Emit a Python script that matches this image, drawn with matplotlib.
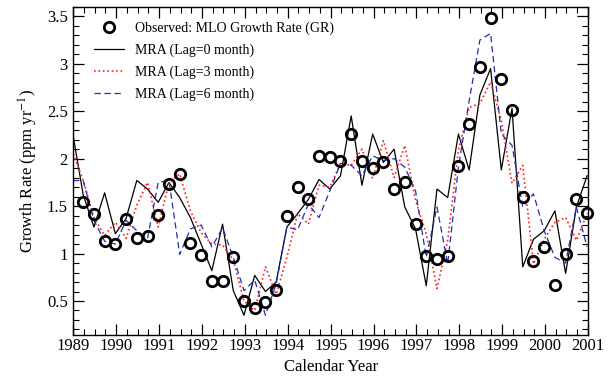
import numpy as np
import matplotlib
matplotlib.use("Agg")
import matplotlib.pyplot as plt
from matplotlib.ticker import MultipleLocator, FixedLocator

plt.rcParams['font.family'] = ['Liberation Serif', 'DejaVu Serif']
plt.rcParams['mathtext.fontset'] = 'stix'

# Quarterly time axis
line_years = 1989.0 + 0.25 * np.arange(49) - np.r_[0, np.full(48, 0.02)]
obs_years = line_years[1:]

observed = [1.54, 1.42, 1.13, 1.10, 1.36, 1.16, 1.19, 1.41, 1.735, 1.84, 1.11, 0.99,
            0.71, 0.715, 0.96, 0.50, 0.43, 0.49, 0.62, 1.40, 1.70, 1.58, 2.03, 2.02,
            1.98, 2.255, 1.98, 1.90, 1.96, 1.68, 1.75, 1.31, 0.97, 0.94, 0.97, 1.92,
            2.37, 2.965, 3.48, 2.84, 2.51, 1.60, 0.92, 1.07, 0.67, 1.00, 1.58, 1.425]

mra_lag0 = [2.23, 1.62, 1.28, 1.64, 1.21, 1.37, 1.77, 1.68, 1.54, 1.75, 1.59, 1.38,
            1.10, 0.82, 1.31, 0.61, 0.35, 0.77, 0.60, 0.70, 1.28, 1.42, 1.57, 1.78,
            1.68, 1.82, 2.45, 1.72, 2.26, 1.96, 2.10, 1.49, 1.26, 0.66, 1.68, 1.59,
            2.26, 1.88, 2.67, 2.95, 1.88, 2.53, 0.86, 1.15, 1.24, 1.45, 0.79, 1.49, 1.82]

mra_lag3 = [2.05, 1.77, 1.38, 1.19, 1.33, 1.16, 1.51, 1.75, 1.28, 1.75, 1.84, 1.45,
            1.22, 1.10, 1.09, 0.93, 0.50, 0.40, 0.86, 0.57, 0.96, 1.42, 1.31, 1.72,
            1.70, 1.95, 1.93, 2.10, 1.79, 2.19, 1.80, 2.14, 1.56, 1.21, 0.63, 1.14,
            2.09, 2.54, 2.58, 2.81, 2.40, 1.74, 1.93, 0.89, 1.15, 1.33, 1.38, 1.14, 1.42]

mra_lag6 = [1.77, 1.77, 1.35, 1.13, 1.10, 1.35, 1.24, 1.16, 1.75, 1.77, 0.99, 1.26,
            1.30, 1.07, 1.27, 0.96, 0.61, 0.72, 0.35, 0.68, 1.28, 1.25, 1.52, 1.38,
            1.66, 1.95, 1.93, 1.82, 2.03, 1.98, 2.00, 1.91, 1.66, 0.96, 1.49, 0.89,
            1.91, 2.61, 3.25, 3.32, 2.26, 2.14, 1.49, 1.63, 1.24, 0.96, 0.90, 1.49, 1.07]

year_ticks = list(range(1989, 2002))
y_ticks = [0.5, 1, 1.5, 2, 2.5, 3, 3.5]
y_labels = ['0.5', '1', '1.5', '2', '2.5', '3', '3.5']

fig = plt.figure(figsize=(6.08, 3.8), dpi=100)
ax = fig.add_axes([0.1206, 0.118, 0.8464, 0.864])

ax.plot(obs_years, observed, 'o', mfc='none', mec='black', mew=2.0, ms=7.5,
        label='Observed: MLO Growth Rate (GR)', zorder=5, clip_on=False)
ax.plot(line_years, mra_lag0, '-', color='black', lw=0.9, label='MRA (Lag=0 month)')
ax.plot(line_years, mra_lag3, ':', color='#ff2020', lw=1.2, label='MRA (Lag=3 month)')
ax.plot(line_years, mra_lag6, '--', color='#2030b0', lw=0.9, dashes=(5, 3),
        label='MRA (Lag=6 month)')

ax.set_xlim(1989, 2001)
ax.set_ylim(0.14, 3.6)
ax.xaxis.set_major_locator(FixedLocator(year_ticks))
ax.set_xticklabels([str(y) for y in year_ticks])
ax.xaxis.set_minor_locator(MultipleLocator(0.25))
ax.yaxis.set_major_locator(FixedLocator(y_ticks))
ax.set_yticklabels(y_labels)
ax.yaxis.set_minor_locator(MultipleLocator(0.1))
ax.tick_params(which='both', direction='in', top=True, right=True, labelsize=12)
ax.tick_params(which='major', length=8, width=0.9)
ax.tick_params(which='minor', length=4, width=0.8)
ax.tick_params(axis='x', pad=2)
ax.tick_params(axis='y', pad=4)
for s in ax.spines.values():
    s.set_linewidth(1.0)

ax.set_xlabel('Calendar Year', fontsize=12, labelpad=4)
ax.set_ylabel('Growth Rate (ppm yr$^{-1}$)', fontsize=12, labelpad=5)

leg = ax.legend(loc='upper left', frameon=False, fontsize=10, handlelength=2.1,
                handletextpad=0.8, borderaxespad=0.3, labelspacing=0.62,
                bbox_to_anchor=(0.022, 0.985))

fig.savefig('out.png', dpi=100)
